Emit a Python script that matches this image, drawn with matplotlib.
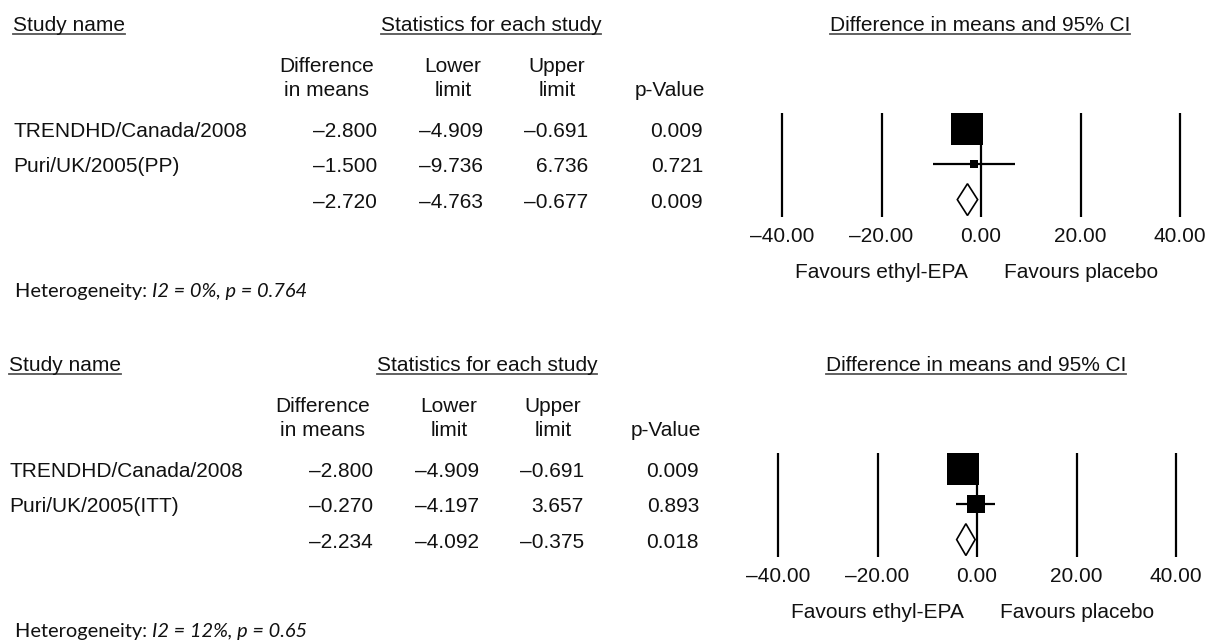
import numpy as np
import matplotlib
matplotlib.use("Agg")
import matplotlib.pyplot as plt
from matplotlib.patches import Polygon

# -------------------- Data --------------------

# Per-protocol analysis
studies_pp = ["TRENDHD/Canada/2008", "Puri/UK/2005(PP)"]
diff_pp = [-2.800, -1.500]
lower_pp = [-4.909, -9.736]
upper_pp = [-0.691, 6.736]
pval_pp = [0.009, 0.721]
weight_pp = [93.8, 6.2]
pooled_pp = [-2.720, -4.763, -0.677, 0.009]
het_pp = ["0%", "0.764"]

# Intention-to-treat analysis
studies_itt = ["TRENDHD/Canada/2008", "Puri/UK/2005(ITT)"]
diff_itt = [-2.800, -0.270]
lower_itt = [-4.909, -4.197]
upper_itt = [-0.691, 3.657]
pval_itt = [0.009, 0.893]
weight_itt = [77.6, 22.4]
pooled_itt = [-2.234, -4.092, -0.375, 0.018]
het_itt = ["12%", "0.65"]

x_ticks = [-40, -20, 0, 20, 40]
left_label = "Favours ethyl-EPA"
right_label = "Favours placebo"

# -------------------- Layout --------------------

W, H = 1215, 640
FONT = "Liberation Sans"
HET_FONT = "Lato"
FS = 15
HET_FS = 14.4
INK = "#111111"
ROW_STEP = 35.3

fig = plt.figure(figsize=(W / 100, H / 100), dpi=100)
renderer = fig.canvas.get_renderer()


def px(x, y):
    return x / W, 1 - y / H


def put(x, y, s, ha="left", **kw):
    kw.setdefault("family", FONT)
    kw.setdefault("fontsize", FS)
    kw.setdefault("color", INK)
    return fig.text(*px(x, y), s, ha=ha, va="baseline", **kw)


def underline(t, y):
    bb = t.get_window_extent(renderer)
    x0, x1 = bb.x0 / W, bb.x1 / W
    yy = 1 - y / H
    fig.add_artist(plt.Line2D([x0, x1], [yy, yy], color="#555555", lw=1.3))


def fmt(v):
    return f"{v:.3f}".replace("-", "\u2013")


def draw_panel(top, dx, studies, diff, lower, upper, pval, weight, pooled, het):
    # headers
    underline(put(dx + 13, top + 31, "Study name"), top + 34)
    underline(put(dx + 491, top + 31, "Statistics for each study", ha="center"), top + 34)
    underline(put(dx + 980, top + 31, "Difference in means and 95% CI", ha="center"), top + 34)

    put(dx + 327, top + 72, "Difference", ha="center")
    put(dx + 327, top + 96, "in means", ha="center")
    put(dx + 453, top + 72, "Lower", ha="center")
    put(dx + 453, top + 96, "limit", ha="center")
    put(dx + 557, top + 72, "Upper", ha="center")
    put(dx + 557, top + 96, "limit", ha="center")
    put(dx + 670, top + 96, "p-Value", ha="center")

    # table rows
    cols = [377, 483, 588, 703]
    rows = list(zip(studies, diff, lower, upper, pval)) + [("",) + tuple(pooled)]
    for i, (name, d, lo, hi, p) in enumerate(rows):
        yb = top + 137 + i * ROW_STEP
        if name:
            put(dx + 13, yb, name)
        for cx, v in zip(cols, [d, lo, hi, p]):
            put(dx + cx, yb, fmt(v), ha="right")

    # forest plot
    row0 = top + 129
    y_top = row0 - 0.5 * ROW_STEP
    y_bot = row0 + 2.55 * ROW_STEP
    ax = fig.add_axes([(dx + 782) / W, 1 - y_bot / H, 398 / W, (y_bot - y_top) / H])
    ax.set_xlim(x_ticks[0], x_ticks[-1])
    ax.set_ylim(2.55, -0.5)
    ax.vlines(x_ticks, -0.45, 2.5, color="black", lw=1.6, clip_on=False)

    n = len(studies)
    wmax = max(weight)
    for i in range(n):
        ax.hlines(i, lower[i], upper[i], color="black", lw=1.6)
        side = 23.0 * np.sqrt(weight[i] / wmax)
        ax.plot(diff[i], i, marker="s", ms=side, color="black", mew=0, zorder=3)

    est, lo, hi = pooled[0], pooled[1], pooled[2]
    ax.add_patch(Polygon([(lo, n), (est, n - 0.45), (hi, n), (est, n + 0.45)],
                         closed=True, facecolor="white", edgecolor="black",
                         lw=1.2, zorder=3))

    ax.set_xticks(x_ticks)
    ax.set_xticklabels([f"{t:.2f}".replace("-", "\u2013") for t in x_ticks],
                       family=FONT, fontsize=FS, color=INK)
    ax.tick_params(axis="x", length=0, pad=6)
    ax.set_yticks([])
    for s in ax.spines.values():
        s.set_visible(False)
    ax.patch.set_alpha(0)

    put(dx + 881, top + 278, left_label, ha="center")
    put(dx + 1081, top + 278, right_label, ha="center")

    # heterogeneity note
    t = put(15, top + 297, "Heterogeneity: ", family=HET_FONT, fontsize=HET_FS)
    bb = t.get_window_extent(renderer)
    put(bb.x1, top + 297, f"I2 = {het[0]}, p = {het[1]}",
        family=HET_FONT, fontsize=HET_FS, style="italic")


draw_panel(0, 0, studies_pp, diff_pp, lower_pp, upper_pp, pval_pp,
           weight_pp, pooled_pp, het_pp)
draw_panel(340, -4, studies_itt, diff_itt, lower_itt, upper_itt, pval_itt,
           weight_itt, pooled_itt, het_itt)

fig.savefig("out.png", dpi=100, facecolor="white")
